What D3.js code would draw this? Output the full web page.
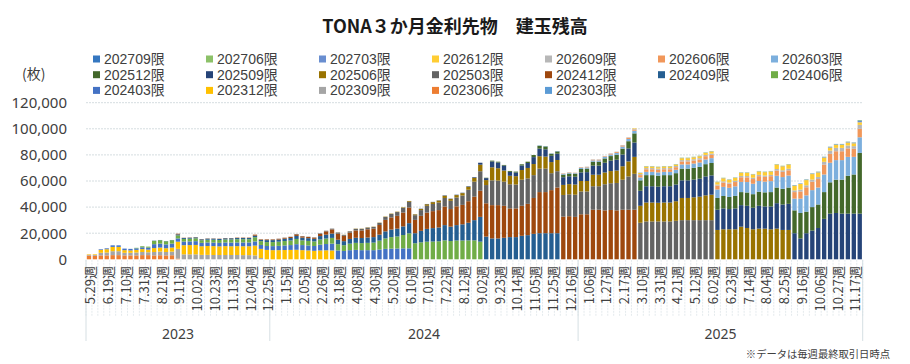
<!DOCTYPE html>
<html><head><meta charset="utf-8">
<script src="https://cdn.jsdelivr.net/npm/d3@7/dist/d3.min.js"></script>
<style>
body{margin:0;background:#fff;}
svg text{font-family:"Noto Sans CJK JP","Noto Sans",sans-serif;}
</style></head><body>
<svg id="chart" width="910" height="364"></svg>
<script>
// ---------- categories ----------
const weeks = [
 "5.29","6.05","6.12","6.19","6.26","7.03","7.10","7.17","7.24","7.31","8.07","8.14","8.21","8.28","9.04","9.11","9.18","9.25","10.02","10.09","10.16","10.23","10.30","11.06","11.13","11.20","11.27","12.04","12.11","12.18","12.25",
 "1.01","1.08","1.15","1.22","1.29","2.05","2.12","2.19","2.26","3.04","3.11","3.18","3.25","4.01","4.08","4.15","4.22","4.30","5.06","5.13","5.20","5.27","6.03","6.10","6.17","6.24","7.01","7.08","7.15","7.22","7.29","8.05","8.12","8.19","8.26","9.02","9.09","9.16","9.23","9.30","10.07","10.14","10.21","10.28","11.05","11.11","11.18","11.25","12.02","12.09","12.16","12.23","12.30",
 "1.06","1.13","1.20","1.27","2.03","2.10","2.17","2.24","3.03","3.10","3.17","3.24","3.31","4.07","4.14","4.21","4.28","5.05","5.12","5.19","5.26","6.02","6.09","6.16","6.23","6.30","7.07","7.14","7.21","7.28","8.04","8.11","8.18","8.25","9.01","9.08","9.16","9.22","9.29","10.06","10.13","10.20","10.27","11.03","11.10","11.17","11.24"
].map(d => d + "週");
const labelEvery = 3;
const yearLabels = ["2023", "2024", "2025"];
const yearWeekCounts = [31, 52, 48];
const yTicks = [0, 20000, 40000, 60000, 80000, 100000, 120000];

// ---------- series (bottom to top) ----------
const seriesNames = ["202303限","202306限","202309限","202312限","202403限","202406限","202409限","202412限","202503限","202506限","202509限","202512限","202603限","202606限","202609限","202612限","202703限","202706限","202709限"];
const seriesColors = ["#5b9bd5","#ed7d31","#a5a5a5","#ffc000","#4472c4","#70ad47","#255e91","#9e480e","#636363","#997300","#264478","#43682b","#7cafdd","#f1975a","#b7b7b7","#ffcd33","#698ed0","#8cc168","#3577c0"];

const v202303 = [
 0,0,0,0,0,0,0,0,0,0,0,0,0,0,0,0,
 0,0,0,0,0,0,0,0,0,0,0,0,0,0,
 0,0,0,0,0,0,0,0,0,0,0,0,
 0,0,0,0,0,0,0,0,0,0,0,0,0,
 0,0,0,0,0,0,0,0,0,0,0,0,
 0,0,0,0,0,0,0,0,0,0,0,0,0,
 0,0,0,0,0,0,0,0,0,0,0,0,0,
 0,0,0,0,0,0,0,0,0,0,0,0,0,
 0,0,0,0,0,0,0,0,0,0,0,0,0,
 0,0,0,0,0,0,0,0,0,0,0,0];
const v202306 = [
 2800,2700,3000,3000,3200,3200,3000,3000,3000,3200,3200,3000,3100,3000,3100,500,
 0,0,0,0,0,0,0,0,0,0,0,0,0,0,
 0,0,0,0,0,0,0,0,0,0,0,0,
 0,0,0,0,0,0,0,0,0,0,0,0,0,
 0,0,0,0,0,0,0,0,0,0,0,0,
 0,0,0,0,0,0,0,0,0,0,0,0,0,
 0,0,0,0,0,0,0,0,0,0,0,0,0,
 0,0,0,0,0,0,0,0,0,0,0,0,0,
 0,0,0,0,0,0,0,0,0,0,0,0,0,
 0,0,0,0,0,0,0,0,0,0,0,0];
const v202309 = [
 600,600,2000,2200,3000,3000,2000,2000,2200,2400,2200,2600,2800,2600,2800,7500,
 3800,3800,3800,3400,3400,3300,3300,3300,3300,3300,3200,3200,3000,1000,
 0,0,0,0,0,0,0,0,0,0,0,0,
 0,0,0,0,0,0,0,0,0,0,0,0,0,
 0,0,0,0,0,0,0,0,0,0,0,0,
 0,0,0,0,0,0,0,0,0,0,0,0,0,
 0,0,0,0,0,0,0,0,0,0,0,0,0,
 0,0,0,0,0,0,0,0,0,0,0,0,0,
 0,0,0,0,0,0,0,0,0,0,0,0,0,
 0,0,0,0,0,0,0,0,0,0,0,0];
const v202312 = [
 400,500,2200,2500,3300,3300,2000,1800,2000,2200,2000,3000,3100,2900,3100,5500,
 7000,7100,7200,6600,6800,6800,6600,6800,6700,6800,6800,6800,7500,7000,
 7200,7000,7000,7100,7200,7300,7000,6800,6500,6800,6900,6800,
 0,0,0,0,0,0,0,0,0,0,0,0,0,
 0,0,0,0,0,0,0,0,0,0,0,0,
 0,0,0,0,0,0,0,0,0,0,0,0,0,
 0,0,0,0,0,0,0,0,0,0,0,0,0,
 0,0,0,0,0,0,0,0,0,0,0,0,0,
 0,0,0,0,0,0,0,0,0,0,0,0,0,
 0,0,0,0,0,0,0,0,0,0,0,0];
const v202403 = [
 0,0,500,700,1200,1200,1200,1200,1200,1400,1500,3000,3000,2900,3000,2500,
 2800,2800,2900,2600,2700,2700,2700,2800,2800,2800,2900,2900,3200,3000,
 3000,3100,3300,3500,3700,4300,3900,3800,3700,4400,4800,5200,
 6800,6400,7000,7200,7000,7000,7000,7500,8000,8200,8300,8400,8400,
 0,0,0,0,0,0,0,0,0,0,0,0,
 0,0,0,0,0,0,0,0,0,0,0,0,0,
 0,0,0,0,0,0,0,0,0,0,0,0,0,
 0,0,0,0,0,0,0,0,0,0,0,0,0,
 0,0,0,0,0,0,0,0,0,0,0,0,0,
 0,0,0,0,0,0,0,0,0,0,0,0];
const v202406 = [
 0,0,0,0,0,0,0,0,400,800,800,2500,2600,2400,2600,2300,
 2000,2100,2200,2000,2100,2200,2200,2300,2400,2500,2500,2500,3200,2900,
 3000,3100,3200,3400,3500,4000,3600,3500,3500,4000,4200,4400,
 4800,4400,5000,5400,5400,5600,5800,6800,8000,8800,9200,10200,11500,
 12300,13000,13500,13600,13800,14500,14000,14400,14400,14500,14500,13500,
 0,0,0,0,0,0,0,0,0,0,0,0,0,
 0,0,0,0,0,0,0,0,0,0,0,0,0,
 0,0,0,0,0,0,0,0,0,0,0,0,0,
 0,0,0,0,0,0,0,0,0,0,0,0,0,
 0,0,0,0,0,0,0,0,0,0,0,0];
const v202409 = [
 0,0,0,0,0,0,0,0,0,0,0,200,200,200,200,800,
 700,700,700,700,800,800,800,900,900,900,900,900,1200,1000,
 1500,1500,1600,1800,1900,2300,2100,2100,2000,2600,3000,3300,
 3400,3100,3600,3900,3900,4100,4200,4600,5400,5800,6000,6600,7800,
 7700,8800,9800,10300,10600,11700,11000,11800,12400,13500,15500,19000,
 17400,16000,16000,16500,17000,17000,18000,18500,19500,20000,20000,20000,20000,
 0,0,0,0,0,0,0,0,0,0,0,0,0,
 0,0,0,0,0,0,0,0,0,0,0,0,0,
 0,0,0,0,0,0,0,0,0,0,0,0,0,
 0,0,0,0,0,0,0,0,0,0,0,0];
const v202412 = [
 0,0,0,0,0,0,0,0,0,0,0,0,0,0,0,500,
 200,200,200,200,200,200,200,200,200,300,300,300,800,400,
 500,500,600,700,800,1200,1000,900,900,1700,2500,3200,
 4600,4100,4800,5600,5800,6300,6500,7400,8800,9300,9800,10600,12000,
 10200,11500,12500,13000,13300,14200,13500,14400,14900,16500,18000,20000,
 25500,25500,25500,24500,22000,22000,23000,24000,27500,31500,31500,33000,35000,
 32700,33000,32500,34500,34500,38000,38000,37500,37800,37500,38000,38000,38000,
 0,0,0,0,0,0,0,0,0,0,0,0,0,
 0,0,0,0,0,0,0,0,0,0,0,0,0,
 0,0,0,0,0,0,0,0,0,0,0,0];
const v202503 = [
 0,0,0,0,0,0,0,0,0,0,0,0,0,0,0,0,
 0,0,0,0,0,0,0,0,0,0,0,0,0,0,
 100,100,100,100,200,300,200,200,200,400,500,600,
 900,700,1000,1200,1200,1300,1300,1600,2200,2600,2900,3600,4400,
 3600,4400,5200,5500,5800,6600,6300,6800,7200,8800,11500,15000,
 14000,19000,18800,18500,18500,18300,20000,19500,17500,18000,18000,13000,12500,
 16600,16800,17000,17500,17500,18000,18000,20000,20500,21000,23000,25500,27500,
 28000,29000,29000,29000,29000,29000,29500,30000,30000,30000,30000,30000,30000,
 0,0,0,0,0,0,0,0,0,0,0,0,0,
 0,0,0,0,0,0,0,0,0,0,0,0];
const v202506 = [
 0,0,0,0,0,0,0,0,0,0,0,0,0,0,0,0,
 0,0,0,0,0,0,0,0,0,0,0,0,0,0,
 0,0,0,0,0,0,0,0,0,0,0,0,
 100,100,100,200,200,200,200,200,300,300,300,400,600,
 600,900,1200,1400,1500,1700,1500,1800,1800,2300,3000,5000,
 3800,10000,9500,8500,6500,6400,7400,8000,8500,9500,9200,8500,8600,
 7700,7800,7800,8000,8000,8800,8800,9000,9300,9500,10300,11500,13000,
 13000,14500,14500,14300,14500,14500,15000,17000,17000,17500,18000,19000,19500,
 22500,23000,23000,23000,25000,24000,23000,23500,23500,23000,23500,22500,22500,
 0,0,0,0,0,0,0,0,0,0,0,0];
const v202509 = [
 0,0,0,0,0,0,0,0,0,0,0,0,0,0,0,0,
 0,0,0,0,0,0,0,0,0,0,0,0,0,0,
 0,0,0,0,0,0,0,0,0,0,0,0,
 0,0,0,0,0,0,0,0,0,0,0,0,0,
 100,200,200,200,200,300,200,300,300,400,500,1500,
 1500,4500,4400,3800,3000,2800,3500,3800,5300,5800,5600,4800,4800,
 5900,6000,6000,6600,6800,7000,7000,7500,8000,8300,9000,10000,11000,
 11500,12500,12500,12400,12500,12500,12800,13500,13500,13600,13800,14500,14800,
 15500,16000,15500,16000,16500,17000,16500,17500,17000,17500,19500,19500,20000,
 20000,16000,20000,22000,24000,31000,35000,35500,35000,35000,35000,35000];
const v202512 = [
 0,0,0,0,0,0,0,0,0,0,0,0,0,0,0,0,
 0,0,0,0,0,0,0,0,0,0,0,0,0,0,
 0,0,0,0,0,0,0,0,0,0,0,0,
 0,0,0,0,0,0,0,0,0,0,0,0,0,
 0,0,0,0,0,0,0,0,0,0,0,0,
 300,600,600,500,700,700,900,1000,1600,2200,2200,1600,1800,
 2000,2100,2100,2600,2700,3000,3000,3300,3500,3800,4500,5500,7000,
 8000,8500,8500,8400,8500,8500,8700,9000,9000,9000,9000,9400,9500,
 9000,9500,9300,9600,10000,10200,10400,10800,10800,11000,12000,12000,12500,
 17500,19500,16500,18000,18000,20500,24000,25500,26000,29000,30000,46500];
const v202603 = [
 0,0,0,0,0,0,0,0,0,0,0,0,0,0,0,0,
 0,0,0,0,0,0,0,0,0,0,0,0,0,0,
 0,0,0,0,0,0,0,0,0,0,0,0,
 0,0,0,0,0,0,0,0,0,0,0,0,0,
 0,0,0,0,0,0,0,0,0,0,0,0,
 0,0,0,0,0,0,0,0,0,300,300,300,300,
 600,600,600,900,900,1000,1000,1100,1200,1400,1600,1700,2000,
 2200,2500,2500,2500,2500,2500,2600,3200,3200,3300,3400,3600,3700,
 6500,7000,7000,7300,7800,8000,8000,8200,8200,8400,9000,9000,9200,
 9000,11000,12500,13000,13000,13500,15000,15000,15000,14500,13500,12000];
const v202606 = [
 0,0,0,0,0,0,0,0,0,0,0,0,0,0,0,0,
 0,0,0,0,0,0,0,0,0,0,0,0,0,0,
 0,0,0,0,0,0,0,0,0,0,0,0,
 0,0,0,0,0,0,0,0,0,0,0,0,0,
 0,0,0,0,0,0,0,0,0,0,0,0,
 0,0,0,0,0,0,0,0,0,0,0,0,0,
 300,300,300,400,400,500,500,500,600,700,800,900,1000,
 1800,2000,2000,2000,2000,2000,2000,2300,2300,2300,2300,2500,2500,
 3000,3300,3200,3300,3600,3600,3600,3700,3700,3800,4000,4000,4000,
 5000,5500,6200,6500,6500,7500,6800,6800,6800,6500,6200,6500];
const v202609 = [
 0,0,0,0,0,0,0,0,0,0,0,0,0,0,0,0,
 0,0,0,0,0,0,0,0,0,0,0,0,0,0,
 0,0,0,0,0,0,0,0,0,0,0,0,
 0,0,0,0,0,0,0,0,0,0,0,0,0,
 0,0,0,0,0,0,0,0,0,0,0,0,
 0,0,0,0,0,0,0,0,0,0,0,0,0,
 100,100,100,200,200,300,300,300,300,300,400,400,500,
 800,900,900,900,900,900,900,1000,1000,1000,1000,1000,1000,
 800,900,800,900,1000,1000,1000,1000,1000,1000,1200,1200,1200,
 1300,1400,1500,1600,1600,2200,2500,2600,2600,2200,2000,3000];
const v202612 = [
 0,0,0,0,0,0,0,0,0,0,0,0,0,0,0,0,
 0,0,0,0,0,0,0,0,0,0,0,0,0,0,
 0,0,0,0,0,0,0,0,0,0,0,0,
 0,0,0,0,0,0,0,0,0,0,0,0,0,
 0,0,0,0,0,0,0,0,0,0,0,0,
 0,0,0,0,0,0,0,0,0,0,0,0,0,
 0,0,0,0,0,0,0,0,0,0,0,0,400,
 900,1200,1200,1100,1200,1200,1100,1500,1500,1500,1500,1600,1600,
 1800,2400,2100,2300,2400,2500,2500,2600,2600,2600,3400,3100,3200,
 3500,4300,4000,4200,3500,3200,2300,2300,2300,2300,2200,2000];
const v202703 = [
 0,0,0,0,0,0,0,0,0,0,0,0,0,0,0,0,
 0,0,0,0,0,0,0,0,0,0,0,0,0,0,
 0,0,0,0,0,0,0,0,0,0,0,0,
 0,0,0,0,0,0,0,0,0,0,0,0,0,
 0,0,0,0,0,0,0,0,0,0,0,0,
 0,0,0,0,0,0,0,0,0,0,0,0,0,
 0,0,0,0,0,0,0,0,0,0,0,0,0,
 200,200,200,200,200,200,200,200,200,200,200,200,200,
 200,200,200,200,200,200,200,200,200,200,200,200,200,
 300,300,300,300,300,400,400,400,400,400,400,1000];
const v202706 = [
 0,0,0,0,0,0,0,0,0,0,0,0,0,0,0,0,
 0,0,0,0,0,0,0,0,0,0,0,0,0,0,
 0,0,0,0,0,0,0,0,0,0,0,0,
 0,0,0,0,0,0,0,0,0,0,0,0,0,
 0,0,0,0,0,0,0,0,0,0,0,0,
 0,0,0,0,0,0,0,0,0,0,0,0,0,
 0,0,0,0,0,0,0,0,0,0,0,0,0,
 0,200,200,200,200,200,200,200,200,200,200,200,200,
 200,200,200,200,200,200,200,200,200,200,200,200,200,
 200,100,200,200,200,200,200,200,200,200,200,500];
const v202709 = [
 0,0,0,0,0,0,0,0,0,0,0,0,0,0,0,0,
 0,0,0,0,0,0,0,0,0,0,0,0,0,0,
 0,0,0,0,0,0,0,0,0,0,0,0,
 0,0,0,0,0,0,0,0,0,0,0,0,0,
 0,0,0,0,0,0,0,0,0,0,0,0,
 0,0,0,0,0,0,0,0,0,0,0,0,0,
 0,0,0,0,0,0,0,0,0,0,0,0,0,
 0,0,0,0,0,0,0,0,0,0,0,0,0,
 0,0,0,0,0,0,0,0,0,0,0,0,0,
 100,100,100,100,100,100,100,100,100,100,100,200];

const seriesValues = [v202303,v202306,v202309,v202312,v202403,v202406,v202409,v202412,v202503,v202506,v202509,v202512,v202603,v202606,v202609,v202612,v202703,v202706,v202709];

// ---------- chart ----------
const svg = d3.select("#chart");
const plotL = 86, plotR = 862.7, plotT = 102.7, plotB = 259.3;
const textColor = "#404040";
const latinFont = '"Noto Sans","Noto Sans CJK JP",sans-serif';

const rows = weeks.map((w, i) => {
  const r = {week: w, idx: i};
  seriesNames.forEach((s, k) => { r[s] = seriesValues[k][i] || 0; });
  return r;
});

const x = d3.scaleBand().domain(d3.range(weeks.length)).range([plotL, plotR])
  .paddingInner(0.27).paddingOuter(0.135);
const y = d3.scaleLinear().domain([0, 120000]).range([plotB, plotT]);
const color = d3.scaleOrdinal().domain(seriesNames).range(seriesColors);

// title
svg.append("text").attr("x", 455).attr("y", 33).attr("text-anchor", "middle")
  .attr("font-size", 18).attr("font-weight", "bold").attr("fill", "#1a1a1a")
  .text("TONA３か月金利先物　建玉残高");

// unit
svg.append("text").attr("x", 22).attr("y", 73).attr("dominant-baseline", "central")
  .attr("font-size", 14).attr("fill", textColor).text("(枚)");

// legend (reverse order, 7 per row)
const legendOrder = seriesNames.slice().reverse();
const lg = svg.append("g");
legendOrder.forEach((name, j) => {
  const col = j % 7, row = Math.floor(j / 7);
  const lx = 93 + col * 113.0, ly = 59 + row * 15.7;
  lg.append("rect").attr("x", lx).attr("y", ly - 3.5).attr("width", 7).attr("height", 7)
    .attr("fill", color(name));
  lg.append("text").attr("x", lx + 11).attr("y", ly + 5).
    attr("font-size", 14).attr("fill", textColor)
    .style("font-family", '"Liberation Sans","Noto Sans CJK JP",sans-serif')
    .text(name);
});

// gridlines
svg.append("g").selectAll("line").data(yTicks.filter(d => d > 0)).join("line")
  .attr("x1", plotL).attr("x2", plotR).attr("y1", d => y(d)).attr("y2", d => y(d))
  .attr("stroke", "#d5dde0").attr("stroke-width", 1).attr("stroke-dasharray", "2,1");

// y axis
const yAxis = svg.append("g").attr("transform", `translate(${plotL - 19},0)`)
  .call(d3.axisLeft(y).tickValues(yTicks).tickFormat(d3.format(",")).tickSize(0).tickPadding(0));
yAxis.select(".domain").remove();
yAxis.selectAll("text").attr("font-size", 15).attr("fill", textColor)
  .style("font-family", latinFont);

// bars
const stack = d3.stack().keys(seriesNames);
const stacked = stack(rows);
svg.append("g").selectAll("g").data(stacked).join("g")
  .attr("fill", d => color(d.key))
  .selectAll("rect").data(d => d.filter(p => p[1] - p[0] > 0)).join("rect")
  .attr("x", d => x(d.data.idx))
  .attr("width", x.bandwidth())
  .attr("y", d => y(d[1]))
  .attr("height", d => y(d[0]) - y(d[1]));

// category axis separators
const step = x.step();
const sepG = svg.append("g");
d3.range(weeks.length + 1).forEach(i => {
  const sx = plotL + i * step;
  sepG.append("line").attr("x1", sx).attr("x2", sx).attr("y1", plotB + 0.5).attr("y2", 316)
    .attr("stroke", "#dde5e9").attr("stroke-width", 0.8).attr("stroke-dasharray", "2,1");
});
// year dividers and labels
let acc = 0;
const yearBounds = [0];
yearWeekCounts.forEach(c => { acc += c; yearBounds.push(acc); });
yearBounds.forEach(b => {
  const sx = plotL + b * step;
  sepG.append("line").attr("x1", sx).attr("x2", sx).attr("y1", plotB + 0.5).attr("y2", 341)
    .attr("stroke", "#d6dfe3").attr("stroke-width", 1);
});
yearLabels.forEach((lab, k) => {
  const cx = plotL + (yearBounds[k] + yearBounds[k + 1]) / 2 * step;
  svg.append("text").attr("x", cx).attr("y", 333).attr("text-anchor", "middle")
    .attr("dominant-baseline", "central").attr("font-size", 14).attr("fill", textColor)
    .style("font-family", latinFont).text(lab);
});

// week labels (every 3rd), rotated
svg.append("g").selectAll("text").data(weeks.map((w, i) => ({w, i})).filter(d => d.i % labelEvery === 0))
  .join("text")
  .attr("transform", d => `translate(${x(d.i) + x.bandwidth() / 2 + 1},266) rotate(-90)`)
  .attr("text-anchor", "end").attr("dominant-baseline", "central")
  .attr("font-size", 13).attr("fill", textColor).text(d => d.w);

// footnote
svg.append("text").attr("x", 890).attr("y", 353).attr("text-anchor", "end")
  .attr("dominant-baseline", "central").attr("font-size", 10.3).attr("fill", textColor)
  .text("※データは毎週最終取引日時点");
</script>
</body></html>
